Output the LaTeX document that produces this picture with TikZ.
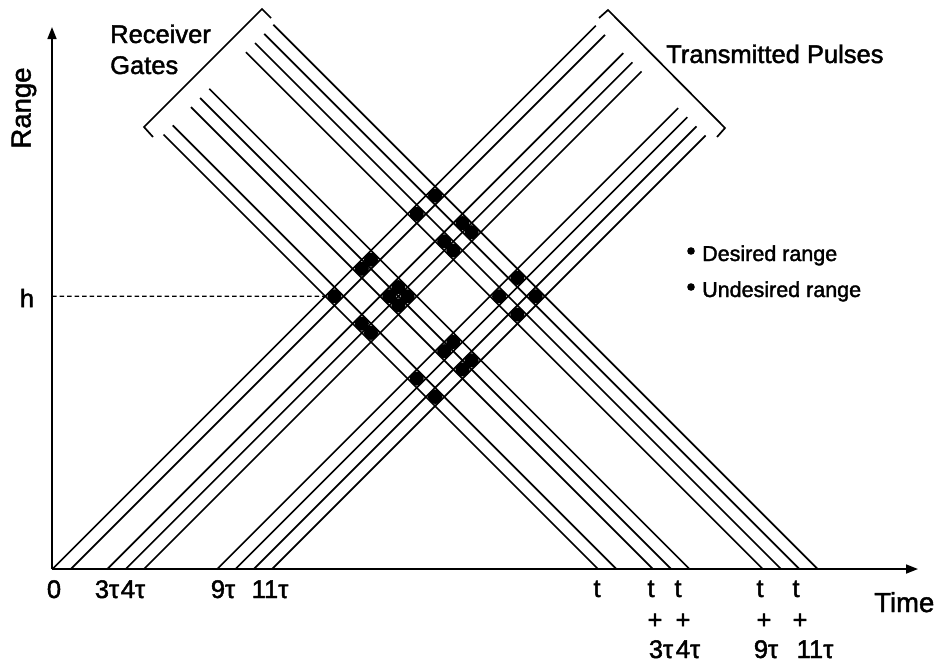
\documentclass[tikz,border=0pt]{standalone}
\usepackage{fontspec}
\setmainfont{Liberation Sans}[FakeBold=1.7]
\usetikzlibrary{arrows.meta,calc}
\begin{document}
\begin{tikzpicture}[x=1pt,y=-1pt,
  ray/.style={line width=1.7pt},
  axisline/.style={line width=1.7pt,-{Triangle[length=12pt,width=9pt]}},
  bracketline/.style={line width=1.7pt},
  hitdot/.style={fill=black,draw=none},
  bigtxt/.style={font=\fontsize{25.5}{30}\selectfont,inner sep=0pt},
  axtxt/.style={font=\fontsize{27.5}{32}\selectfont,inner sep=0pt},
  legtxt/.style={font=\fontsize{21.5}{26}\selectfont,inner sep=0pt}]
\useasboundingbox (0,0) rectangle (941,664);
\def\tu{18.3}
% axes
\coordinate (O) at (52,569);
\coordinate (ytop) at (52,27);
\coordinate (xend) at (918,569);
\draw[axisline] (O) -- (ytop);
\draw[axisline] (O) -- (xend);
% transmitted pulses (up-right)
\foreach \a in {0,1,3,4,5,9,10,11,12}{
  \pgfmathsetmacro{\xs}{52.5+\a*\tu}
  \pgfmathsetmacro{\xe}{(1139+\xs)/2}
  \pgfmathsetmacro{\ye}{\xe-570}
  \coordinate (tp\a s) at (\xs,569);
  \coordinate (tp\a e) at (\xe,\ye);
  \draw[ray] (tp\a s) -- (tp\a e);
}
% receiver gates (down-right)
\foreach \b in {0,1,3,4,5,9,10,11,12}{
  \pgfmathsetmacro{\xe}{598+\b*\tu}
  \pgfmathsetmacro{\xs}{(\xe-271)/2}
  \pgfmathsetmacro{\ys}{298-\xs}
  \coordinate (rg\b s) at (\xs,\ys);
  \coordinate (rg\b e) at (\xe,569);
  \draw[ray] (rg\b s) -- (rg\b e);
}
% intersection dots
\foreach \p in {0,3,4,9,11}{
  \foreach \g in {0,3,4,9,11}{
    \pgfmathsetmacro{\xa}{52.5+(\p+0.5)*\tu}
    \pgfmathsetmacro{\xb}{598+(\g+0.5)*\tu}
    \pgfmathsetmacro{\xc}{(\xa+\xb)/2}
    \pgfmathsetmacro{\yc}{569-(\xb-\xa)/2}
    \coordinate (d\p-\g) at (\xc,\yc);
    \fill[hitdot] (d\p-\g) circle (7);
  }
}
% dashed line to h
\coordinate (hleft) at (52,296.3);
\draw[line width=1.2pt,dash pattern=on 4.5pt off 3pt] (hleft) -- (d0-0);
% brackets
\coordinate (rb1) at (271,18);
\coordinate (rb2) at (262,9);
\coordinate (rb3) at (144,127);
\coordinate (rb4) at (153,137);
\draw[bracketline] (rb1) -- (rb2) -- (rb3) -- (rb4);
\coordinate (tb1) at (599,18);
\coordinate (tb2) at (608,10);
\coordinate (tb3) at (725,128);
\coordinate (tb4) at (717,137);
\draw[bracketline] (tb1) -- (tb2) -- (tb3) -- (tb4);
% labels
\node[axtxt,rotate=90] (rangelbl) at (24,108) {Range};
\node[bigtxt] (hlbl) at (27,298) {h};
\node[bigtxt,anchor=base west] (recv1) at (110,43) {Receiver};
\node[bigtxt,anchor=base west] (recv2) at (110,74) {Gates};
\node[bigtxt,anchor=base west] (trans) at (666,63) {Transmitted Pulses};
\node[axtxt,anchor=base west] (timelbl) at (874,612) {Time};
% legend
\fill (691,251) circle (3.8);
\node[legtxt,anchor=base west] (leg1) at (702,261) {Desired range};
\fill (691,287) circle (3.8);
\node[legtxt,anchor=base west] (leg2) at (702,297) {Undesired range};
% x-axis labels left
\node[bigtxt,anchor=base] (l0) at (54,598) {0};
\node[bigtxt,anchor=base] (l3) at (107,598) {3τ};
\node[bigtxt,anchor=base] (l4) at (133,598) {4τ};
\node[bigtxt,anchor=base] (l9) at (223,598) {9τ};
\node[bigtxt,anchor=base] (l11) at (270,598) {11τ};
% x-axis labels right
\foreach \x/\n in {597/a,651/b,678/c,760/d,796/e}{
  \node[bigtxt,anchor=base] (t\n) at (\x,597) {t};
}
\foreach \x/\n in {655/b,683/c,764/d,800/e}{
  \node[bigtxt] (p\n) at (\x,621) {+};
}
\node[bigtxt,anchor=base] (r3) at (661,658) {3τ};
\node[bigtxt,anchor=base] (r4) at (688,658) {4τ};
\node[bigtxt,anchor=base] (r9) at (766,658) {9τ};
\node[bigtxt,anchor=base] (r11) at (815,658) {11τ};
\end{tikzpicture}
\end{document}
